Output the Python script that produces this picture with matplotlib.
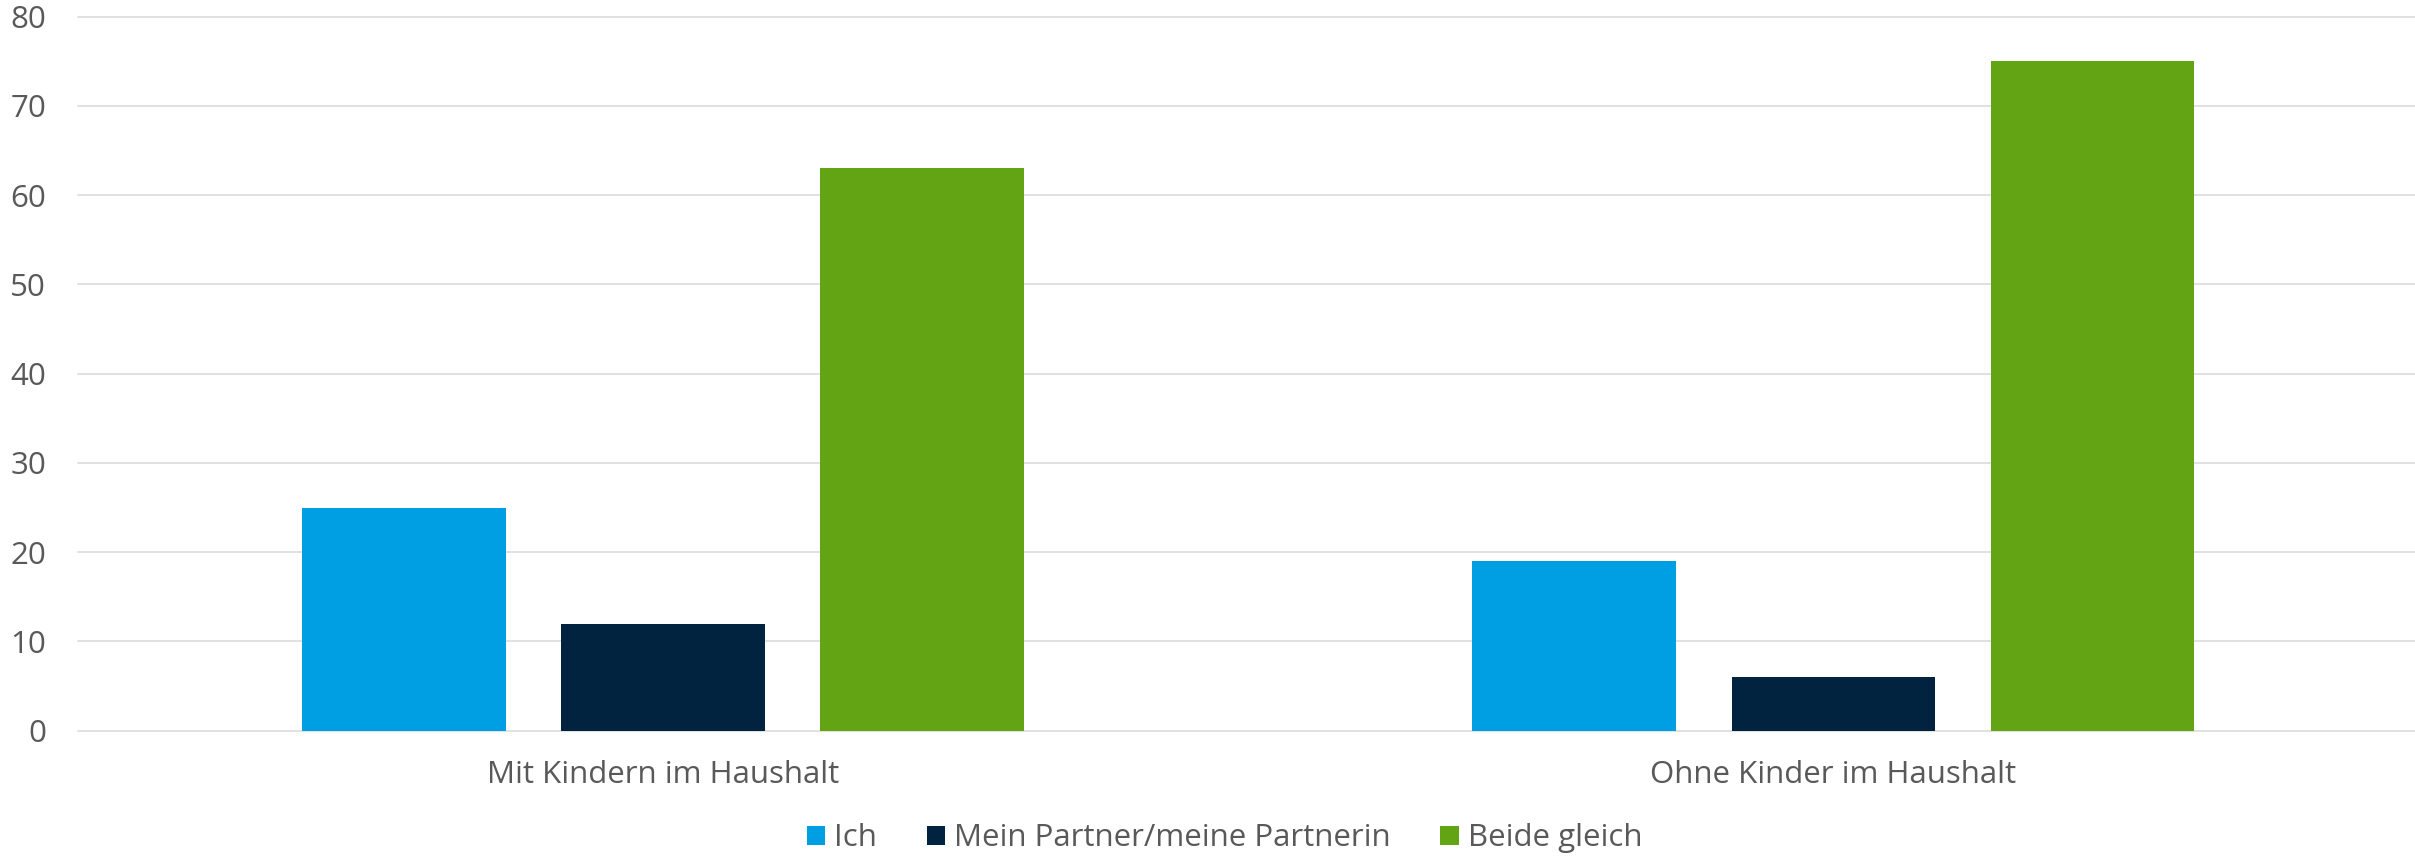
import matplotlib
matplotlib.use("Agg")
import matplotlib.pyplot as plt
import numpy as np

categories = ["Mit Kindern im Haushalt", "Ohne Kinder im Haushalt"]
series_names = ["Ich", "Mein Partner/meine Partnerin", "Beide gleich"]
ich = [25, 19]
partner = [12, 6]
beide = [63, 75]
y_ticks = [0, 10, 20, 30, 40, 50, 60, 70, 80]

colors = ["#009FE3", "#012340", "#62A413"]
text_col = "#595959"
grid_col = "#D9D9D9"

plt.rcParams['font.family'] = ['Open Sans', 'DejaVu Sans']


def main():
    fig = plt.figure(figsize=(24.15, 8.59), dpi=100)
    ax = fig.add_axes([78 / 2415, 128.3 / 859, 2337 / 2415, 714 / 859])

    x = np.arange(len(categories))
    width = 0.174
    step = 0.2214
    for i, (vals, name) in enumerate(zip([ich, partner, beide], series_names)):
        ax.bar(x + (i - 1) * step, vals, width=width, color=colors[i],
               label=name, zorder=3)

    ax.set_xlim(-0.5, 1.497)
    ax.set_ylim(0, 80)
    ax.set_yticks(y_ticks)
    ax.set_xticks(x)
    ax.set_xticklabels(categories)

    ax.grid(axis="y", color=grid_col, linewidth=1.1, zorder=0)
    for line in ax.get_ygridlines():
        line.set_clip_on(False)
    ax.set_axisbelow(True)

    for s in ax.spines.values():
        s.set_visible(False)

    fs = 22.5
    ax.tick_params(axis="y", length=0, pad=23, labelsize=fs, labelcolor=text_col)
    ax.tick_params(axis="x", length=0, pad=21, labelsize=fs, labelcolor=text_col)

    leg = fig.legend(loc="center", bbox_to_anchor=(0.507, 0.024), ncol=3,
                     frameon=False, fontsize=fs, handlelength=0.58,
                     handleheight=0.58, handletextpad=0.29, columnspacing=1.6)
    for t in leg.get_texts():
        t.set_color(text_col)

    fig.savefig("out.png", dpi=100)


if __name__ == "__main__":
    main()
